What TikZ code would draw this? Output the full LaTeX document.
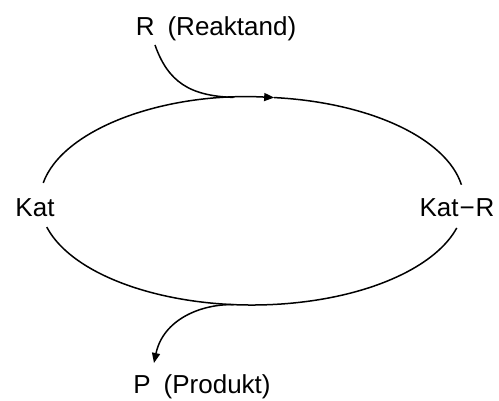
\documentclass[tikz,border=0pt]{standalone}
\usepackage{fontspec}
\setmainfont{Liberation Sans}
\usetikzlibrary{arrows.meta}
\begin{document}
\begin{tikzpicture}[x=1pt,y=1pt,
  lbl/.style={inner sep=0pt,anchor=base,font=\fontsize{26}{30}\selectfont},
  cyc/.style={line width=1.5pt},
  tip/.style={-{Triangle[length=10pt,width=8pt]}}]
\useasboundingbox (0,0) rectangle (499,400);
\coordinate (C) at (252,199);
\node[lbl] (kat) at (35,183) {Kat};
\node[lbl] (katr) at (457,183) {Kat\hspace{1pt}\char"2212\hspace{1pt}R};
\node[lbl] (r) at (216,364) {R\hspace{13pt}(Reaktand)};
\node[lbl] (p) at (202,7) {P\hspace{13pt}(Produkt)};
% cycle arcs
\coordinate (ul) at ([shift={(170:212pt and 104pt)}]C);
\coordinate (ll) at ([shift={(194.5:212pt and 104pt)}]C);
\draw[cyc,tip] (ul) arc[start angle=170,end angle=84,x radius=212pt,y radius=104pt] coordinate (utip);
\draw[cyc] (utip) arc[start angle=84,end angle=9,x radius=212pt,y radius=104pt] coordinate (ur);
\draw[cyc] (ll) arc[start angle=194.5,end angle=345,x radius=212pt,y radius=104pt] coordinate (lr);
% reactant in
\coordinate (rs) at (155,355);
\coordinate (rj) at ([shift={(95:212pt and 104pt)}]C);
\draw[cyc] (rs) .. controls (168,318) and (190,304) .. (rj);
% product out
\coordinate (pj) at ([shift={(265:212pt and 104pt)}]C);
\coordinate (pe) at (154,37);
\draw[cyc,tip] (pj) .. controls (200,96) and (163,80) .. (pe);
\end{tikzpicture}
\end{document}
